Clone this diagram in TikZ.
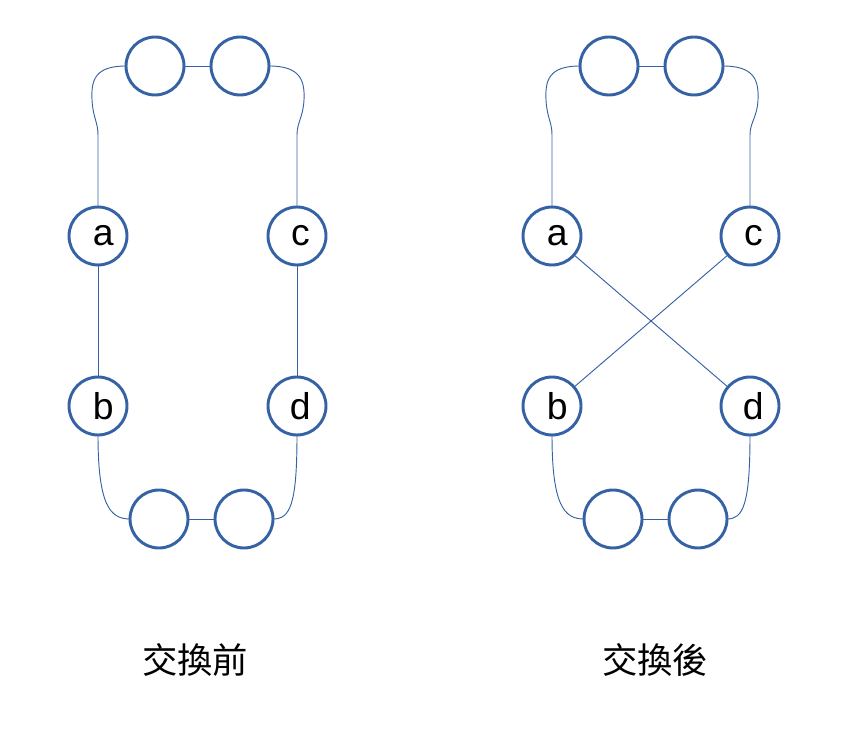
\documentclass[tikz,border=0pt]{standalone}
\usepackage{fontspec}
\setmainfont{Liberation Sans}
\newfontfamily\cjk{Noto Sans CJK TC}
\definecolor{ringblue}{RGB}{52,98,164}
\tikzset{
  ring/.style={draw=ringblue, line width=2.2pt, circle, minimum size=43.5pt, inner sep=0pt, outer sep=0pt, font=\fontsize{28}{32}\selectfont},
  wire/.style={draw=ringblue, line width=0.7pt},
}
\begin{document}
\begin{tikzpicture}[x=0.75pt,y=0.75pt,yscale=-1,xscale=1]
\useasboundingbox (0,0) rectangle (853,730);
% before swap
% Shape: Circle
\node [ring] (Lt1) at (155,66) {};
\node [ring] (Lt2) at (240,66) {};
\node [ring] (La) at (98,236) {\hspace*{8pt}\raisebox{-1.5pt}{a}};
\node [ring] (Lc) at (297,236) {\hspace*{5pt}\raisebox{-1.5pt}{c}};
\node [ring] (Lb) at (98,406) {\hspace*{8pt}b};
\node [ring] (Ld) at (297,406) {\hspace*{5pt}d};
\node [ring] (Lb1) at (159,519) {};
\node [ring] (Lb2) at (244,519) {};
% Connectors
\draw [wire] (Lt1.east) -- (Lt2.west);
\draw [wire] (Lb1.east) -- (Lb2.west);
\draw [wire] (Lt1.west) .. controls (95,66) and (91,80) .. (92,100) .. controls (93,118) and (98,122) .. (98,135) -- (La.north);
\draw [wire] (Lt2.east) .. controls (300,66) and (305,80) .. (304,100) .. controls (303,118) and (297,122) .. (297,135) -- (Lc.north);
\draw [wire] (La.south) -- (Lb.north);
\draw [wire] (Lc.south) -- (Ld.north);
\draw [wire] (Lb.south) .. controls (98,505) and (110,519) .. (Lb1.west);
\draw [wire] (Ld.south) .. controls (297,505) and (290,519) .. (Lb2.east);
% Text Node
\node [font=\cjk\fontsize{26.5}{30}\selectfont] (Lcap) at (195,660) {交換前};

% after swap
% Shape: Circle
\node [ring] (Rt1) at (609,66) {};
\node [ring] (Rt2) at (694,66) {};
\node [ring] (Ra) at (552,236) {\hspace*{8pt}\raisebox{-1.5pt}{a}};
\node [ring] (Rc) at (750,236) {\hspace*{5pt}\raisebox{-1.5pt}{c}};
\node [ring] (Rb) at (552,406) {\hspace*{8pt}b};
\node [ring] (Rd) at (750,406) {\hspace*{5pt}d};
\node [ring] (Rb1) at (613,519) {};
\node [ring] (Rb2) at (698,519) {};
% Connectors
\draw [wire] (Rt1.east) -- (Rt2.west);
\draw [wire] (Rb1.east) -- (Rb2.west);
\draw [wire] (Rt1.west) .. controls (549,66) and (545,80) .. (546,100) .. controls (547,118) and (552,122) .. (552,135) -- (Ra.north);
\draw [wire] (Rt2.east) .. controls (754,66) and (759,80) .. (758,100) .. controls (757,118) and (750,122) .. (750,135) -- (Rc.north);
\draw [wire] (Ra) -- (Rd);
\draw [wire] (Rc) -- (Rb);
\draw [wire] (Rb.south) .. controls (552,505) and (564,519) .. (Rb1.west);
\draw [wire] (Rd.south) .. controls (750,505) and (743,519) .. (Rb2.east);
% Text Node
\node [font=\cjk\fontsize{26.5}{30}\selectfont] (Rcap) at (655,660) {交換後};
\end{tikzpicture}
\end{document}
